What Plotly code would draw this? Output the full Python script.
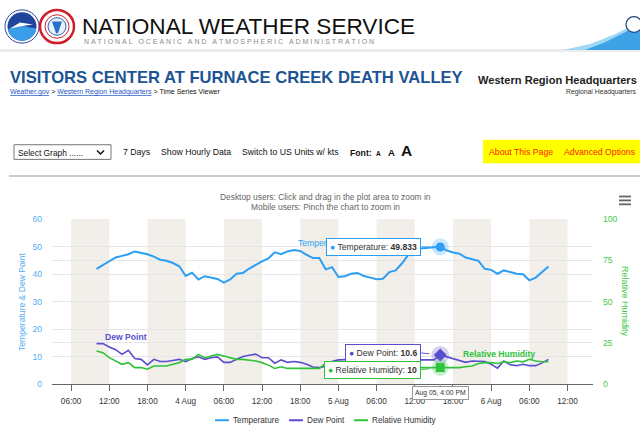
import numpy as np
import pandas as pd
import plotly.graph_objects as go

# ---------------- data ----------------
times = pd.date_range("2024-08-03 10:00", periods=72, freq="h")

temperature = [41.9, 43.2, 44.8, 46.0, 46.6, 47.2, 48.2, 47.7, 47.2, 46.3, 45.2, 44.8, 44.0, 42.8,
               39.3, 40.5, 38.0, 39.2, 38.8, 38.2, 36.9, 38.0, 40.1, 40.4,
               42.0, 43.4, 44.6, 45.7, 47.9, 47.2, 48.2, 48.7, 48.4, 47.0, 45.8, 45.8, 41.7, 42.5,
               38.9, 39.2, 40.1, 40.4, 39.3, 38.7, 38.1, 38.3, 40.7, 41.3,
               43.9, 47.0, 49.0, 49.3, 49.6, 49.7, 49.833, 48.6, 47.8, 47.4, 46.0, 45.4, 44.8, 41.9,
               41.5, 40.1, 41.3, 40.7, 40.1, 39.9, 37.7, 38.7, 40.7, 42.7]

dew_point = [14.7, 14.7, 13.5, 12.5, 10.8, 12.3, 9.3, 9.0, 7.0, 9.0, 8.2, 8.2, 8.6, 9.0,
             8.2, 9.3, 9.9, 9.0, 9.6, 9.9, 7.9, 7.9, 9.0, 10.0,
             10.5, 10.9, 9.6, 9.6, 7.6, 8.8, 7.9, 8.2, 7.9, 7.2, 6.2, 6.0, 6.5, 8.2,
             8.8, 8.8, 9.0, 8.6, 8.8, 8.8, 9.0, 8.8, 8.6, 8.8,
             8.8, 8.8, 8.8, 8.8, 8.8, 8.8, 10.6, 9.9, 9.1, 8.4, 7.9, 8.4, 8.2, 8.2,
             7.2, 5.8, 8.4, 7.0, 6.7, 7.2, 6.7, 6.7, 7.7, 9.0]

rel_humidity = [20, 19, 16, 14, 12, 13, 10, 10, 9, 11, 11, 11, 12, 13,
                15, 15, 18, 16, 17, 18, 17, 16, 15, 15,
                14.5, 14, 13, 11.5, 9.5, 10.5, 9.5, 9.5, 9.5, 9.5, 9.5, 9.5, 12.5, 12,
                11.5, 11, 11, 10.5, 10.5, 10, 10, 10, 10, 10,
                10, 10, 10, 10, 10, 10, 10, 10, 10, 10, 10.5, 11, 12.5, 13,
                13, 12.5, 13.5, 13, 14, 13.5, 15, 14, 13.5, 13.5]

tick_times = pd.date_range("2024-08-03 06:00", "2024-08-06 12:00", freq="6h")
tick_labels = ["06:00", "12:00", "18:00", "4 Aug", "06:00", "12:00", "18:00", "5 Aug",
               "06:00", "12:00", "18:00", "6 Aug", "06:00", "12:00"]
band_starts = pd.date_range("2024-08-03 06:00", "2024-08-06 06:00", freq="12h")
hover_index = 54  # Aug 05, 4:00 PM

# ---------------- styling ----------------
W, H = 640, 436
FN = "Liberation Sans, Arial, sans-serif"
FR = "Liberation Sans, Arial, sans-serif"
C_T, C_D, C_R = "#2c9ff5", "#5a4ecf", "#2fc23a"
C_TL, C_RL = "#55adf2", "#44c844"

def px(x):
    return x / W

def py(y):
    return 1 - y / H

ann = []
shp = []

def text(x, y, s, size, color="#333333", font=FN, xanchor="left", yanchor="middle", **kw):
    ann.append(dict(x=px(x), y=py(y), xref="paper", yref="paper", text=s, showarrow=False,
                    font=dict(family=font, size=size, color=color), borderpad=0,
                    xanchor=xanchor, yanchor=yanchor, **kw))

def rect(x0, y0, x1, y1, fill, line=None, lw=0):
    shp.append(dict(type="rect", xref="paper", yref="paper", x0=px(x0), x1=px(x1),
                    y0=py(y1), y1=py(y0), fillcolor=fill,
                    line=dict(color=line or fill, width=lw)))

def circ(cx, cy, r, fill, line=None, lw=0):
    shp.append(dict(type="circle", xref="paper", yref="paper", x0=px(cx - r), x1=px(cx + r),
                    y0=py(cy + r), y1=py(cy - r), fillcolor=fill,
                    line=dict(color=line or fill, width=lw)))

def poly(pts, fill, line=None, lw=0, closed=True):
    p = "M " + " L ".join(f"{px(a):.5f},{py(b):.5f}" for a, b in pts) + (" Z" if closed else "")
    shp.append(dict(type="path", xref="paper", yref="paper", path=p,
                    fillcolor=fill if closed else None,
                    line=dict(color=line or fill, width=lw)))

def hline(x0, x1, y, color, lw):
    shp.append(dict(type="line", xref="paper", yref="paper", x0=px(x0), x1=px(x1),
                    y0=py(y), y1=py(y), line=dict(color=color, width=lw)))

# ---------------- page header ----------------
rect(0, 45, 640, 48, "#ececec")
# NOAA logo
circ(22, 22, 17, "#ffffff", "#2a4a98", 1)
circ(22, 22, 14.5, "#21459c")
wave = [(8, 25), (14, 22), (22, 21), (30, 23), (36.5, 24)]
arc = [(22 + 14.5 * np.cos(a), 22 + 14.5 * np.sin(a)) for a in np.linspace(0.15, np.pi - 0.3, 20)]
poly(wave + arc, "#3c9de8")
poly([(10, 24), (20, 18), (33, 20), (22, 21.5)], "#ffffff")
# NWS logo
circ(57, 22, 17, "#ffffff", "#cf1f2e", 2.5)
circ(57, 22, 12, "#ffffff", "#cf1f2e", 1)
circ(57, 22, 9, "#e8f1fb", "#2a5fb0", 1)
poly([(52, 17), (62, 17), (58, 29), (56, 29)], "#2a6fc4")
# right swoosh
poly([(563, 46), (590, 40), (615, 30), (640, 17), (640, 46)], "#9fd7f6")
poly([(585, 46), (605, 38), (625, 28), (640, 20), (640, 46)], "#3ea2e6")
circ(634, 20, 8, "#ffffff", "#23407a", 1.2)

text(81, 22, "NATIONAL WEATHER SERVICE", 22.6, "#111111")
sub = "\u00a0\u00a0\u00a0".join("\u00a0".join(list(w)) for w in
                                "NATIONAL OCEANIC AND ATMOSPHERIC ADMINISTRATION".split())
text(83, 37, sub, 7.0, "#8a8a8a", FR)

text(9, 74, "<b>VISITORS CENTER AT FURNACE CREEK DEATH VALLEY</b>", 16.6, "#1d5493")
lk = "<span style='color:#1f55c8;text-decoration:underline'>{}</span>"
text(9, 89, lk.format("Weather.gov") + " &gt; " + lk.format("Western Region Headquarters")
     + " &gt; Time Series Viewer", 7.0, "#111111")
text(638, 77, "<b>Western Region Headquarters</b>", 11.1, "#222222", xanchor="right")
text(638, 89, "Regional Headquarters", 6.8, "#333333", xanchor="right")

# toolbar
rect(14, 143, 111, 158, "#ffffff", "#767676", 1)
text(17, 151, "Select Graph ......", 8.4, "#111111")
poly([(97, 149), (100.5, 152.5), (104, 149)], "#111111", "#111111", 1.5, closed=False)
text(122, 150, "7 Days", 8.7, "#111111")
text(160, 150, "Show Hourly Data", 8.7, "#111111")
text(241, 150, "Switch to US Units w/ kts", 8.7, "#111111")
text(349, 151, "<b>Font:</b>", 8.7, "#111111")
text(375, 152, "<b>A</b>", 6.5, "#111111")
text(387, 151, "<b>A</b>", 9.5, "#111111")
text(400, 149, "<b>A</b>", 15.5, "#111111")
rect(483, 138, 640, 162, "#ffff00")
text(488, 150, "About This Page", 8.7, "#ff1a00")
text(563, 150, "Advanced Options", 8.7, "#ff1a00")
hline(9, 640, 175, "#cccccc", 2)

# chart header
text(325, 196, "Desktop users: Click and drag in the plot area to zoom in", 8.4, "#666666",
     xanchor="center")
text(325, 207, "Mobile users: Pinch the chart to zoom in", 8.4, "#666666", xanchor="center")
for yy in (196, 200, 204):
    hline(619, 631, yy, "#666666", 1.8)

# ---------------- chart ----------------
for b in band_starts:
    shp.append(dict(type="rect", xref="x", yref="y domain", x0=b, x1=b + pd.Timedelta(hours=6),
                    y0=0, y1=1, fillcolor="#f2efeb", line=dict(width=0), layer="below"))

fig = go.Figure()
fig.add_trace(go.Scatter(x=times, y=temperature, name="Temperature", mode="lines",
                         line=dict(color=C_T, width=2), yaxis="y"))
fig.add_trace(go.Scatter(x=times, y=dew_point, name="Dew Point", mode="lines",
                         line=dict(color=C_D, width=1.6), yaxis="y"))
fig.add_trace(go.Scatter(x=times, y=rel_humidity, name="Relative Humidity", mode="lines",
                         line=dict(color=C_R, width=1.6), yaxis="y2"))

ht = times[hover_index]
hv_t, hv_d, hv_r = temperature[hover_index], dew_point[hover_index], rel_humidity[hover_index]
fig.add_trace(go.Scatter(x=[ht], y=[hv_t], mode="markers", yaxis="y",
                         marker=dict(size=17, color="rgba(44,159,245,0.25)"), showlegend=False))
fig.add_trace(go.Scatter(x=[ht], y=[hv_t], mode="markers", yaxis="y",
                         marker=dict(size=9, color=C_T), showlegend=False))
fig.add_trace(go.Scatter(x=[ht], y=[hv_d], mode="markers", yaxis="y",
                         marker=dict(size=18, color="rgba(90,78,207,0.25)"), showlegend=False))
fig.add_trace(go.Scatter(x=[ht], y=[hv_d], mode="markers", yaxis="y",
                         marker=dict(size=10, symbol="diamond", color=C_D), showlegend=False))
fig.add_trace(go.Scatter(x=[ht], y=[hv_r], mode="markers", yaxis="y2",
                         marker=dict(size=17, color="rgba(47,194,58,0.25)"), showlegend=False))
fig.add_trace(go.Scatter(x=[ht], y=[hv_r], mode="markers", yaxis="y2",
                         marker=dict(size=9, symbol="square", color=C_R), showlegend=False))

# axis titles
ann.append(dict(x=px(22), y=py(304), xref="paper", yref="paper", text="Temperature &amp; Dew Point",
                textangle=-90, showarrow=False, xanchor="center", yanchor="middle",
                font=dict(family=FN, size=8.6, color=C_TL)))
ann.append(dict(x=px(625), y=py(303), xref="paper", yref="paper", text="Relative Humidity",
                textangle=90, showarrow=False, xanchor="center", yanchor="middle",
                font=dict(family=FN, size=9.0, color=C_RL)))

# series labels
text(297, 244, "Temperature", 8.6, C_T)
text(104, 340, "<b>Dew Point</b>", 8.6, C_D)
text(462, 357, "<b>Relative Humidity</b>", 8.6, C_R)

# tooltips
def tip(y, yref, body, color, ay):
    ann.append(dict(x=ht, y=y, xref="x", yref=yref, text=body, showarrow=True,
                    ax=-19, ay=ay, axref="pixel", ayref="pixel", xanchor="right",
                    arrowhead=0, arrowwidth=1, arrowcolor=color, standoff=11,
                    bgcolor="rgba(255,255,255,0.96)", bordercolor=color, borderwidth=1,
                    borderpad=3, font=dict(family=FN, size=8.6, color="#333333")))

tip(hv_t, "y", f"<span style='color:{C_T}'>●</span> Temperature: <b>{hv_t}</b>", C_T, 0)
tip(hv_d, "y", f"<span style='color:{C_D}'>●</span> Dew Point: <b>{hv_d}</b>", C_D, -2)
tip(hv_r, "y2", f"<span style='color:{C_R}'>●</span> Relative Humidity: <b>{hv_r:g}</b>", C_R, 2)
ann.append(dict(x=ht, y=0, xref="x", yref="y", text="Aug 05, 4:00 PM", showarrow=True,
                ax=0, ay=9, axref="pixel", ayref="pixel", arrowhead=0, arrowwidth=1,
                arrowcolor="#999999", standoff=0, bgcolor="#ffffff", bordercolor="#999999",
                borderwidth=1, borderpad=2, font=dict(family=FN, size=6.8, color="#333333")))

# legend (drawn)
legend_items = [("Temperature", C_T, 215), ("Dew Point", C_D, 289), ("Relative Humidity", C_R, 354)]
for name, col, x0 in legend_items:
    hline(x0, x0 + 14, 425, col, 2)
    text(x0 + 17, 425, name, 8.2, "#333333")

fig.update_layout(
    width=W, height=H, autosize=False,
    margin=dict(l=0, r=0, t=0, b=0, pad=0),
    paper_bgcolor="#ffffff", plot_bgcolor="#ffffff",
    showlegend=False,
    xaxis=dict(type="date", domain=[px(52), px(593)],
               range=["2024-08-03 03:00", "2024-08-06 16:00"],
               tickvals=list(tick_times), ticktext=tick_labels,
               showgrid=False, zeroline=False, showline=True, linecolor="#666666", linewidth=1,
               ticks="outside", ticklen=6, tickcolor="#666666", ticklabelstandoff=3,
               tickfont=dict(family=FN, size=8.2, color="#333333"), anchor="y"),
    yaxis=dict(domain=[py(388), py(219)], range=[0, 60], tickvals=list(range(0, 61, 10)),
               showgrid=True, gridcolor="#e6e6e6", zeroline=False, showline=False, ticks="",
               ticklabelstandoff=9, tickfont=dict(family=FN, size=8.6, color=C_TL)),
    yaxis2=dict(overlaying="y", side="right", anchor="x", range=[0, 100],
                tickvals=[0, 25, 50, 75, 100], showgrid=True, gridcolor="#e6e6e6",
                zeroline=False, showline=False, ticks="", ticklabelstandoff=9,
                tickfont=dict(family=FN, size=8.6, color=C_RL)),
    annotations=ann, shapes=shp,
)

fig.write_html("out.html", config={"displayModeBar": False},
               post_script="document.body.style.margin='0';document.body.style.overflow='hidden';")
